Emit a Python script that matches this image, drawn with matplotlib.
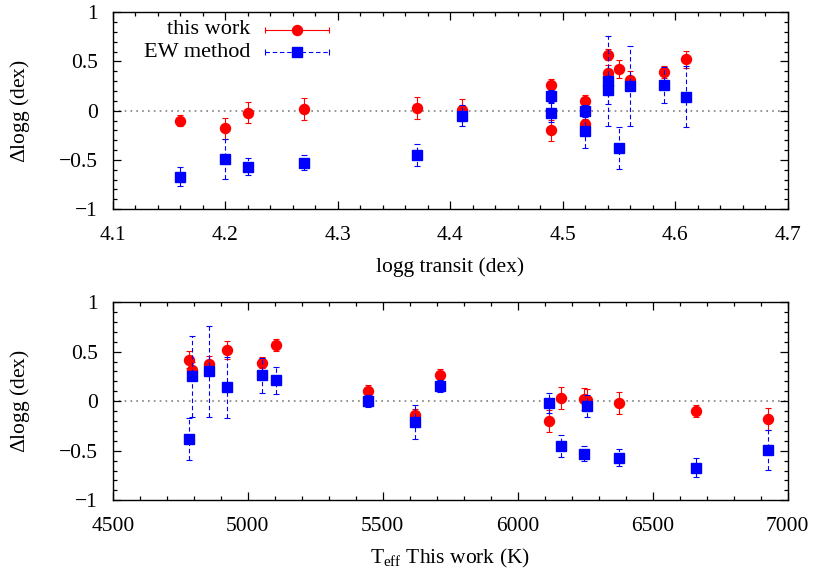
import numpy as np
import matplotlib
matplotlib.use("Agg")
import matplotlib.pyplot as plt
from matplotlib.ticker import MultipleLocator, FormatStrFormatter

plt.rcParams['font.family'] = 'Liberation Serif'
plt.rcParams['mathtext.fontset'] = 'custom'
plt.rcParams['mathtext.rm'] = 'Liberation Serif'
plt.rcParams['mathtext.it'] = 'Liberation Serif:italic'
plt.rcParams['axes.unicode_minus'] = True

# one entry per star
logg_transit = [4.16, 4.20, 4.22, 4.27, 4.37, 4.41, 4.49, 4.49, 4.52, 4.52, 4.54, 4.54, 4.55, 4.56, 4.59, 4.61]
teff = [6660, 6928, 6375, 6244, 6162, 6255, 5711, 6114, 5447, 5620, 5105, 4855, 4781, 4793, 5053, 4921]
dlogg_this = [-0.10, -0.18, -0.02, 0.02, 0.03, 0.01, 0.26, -0.20, 0.10, -0.14, 0.57, 0.38, 0.42, 0.31, 0.39, 0.52]
err_this = [0.06, 0.11, 0.11, 0.11, 0.11, 0.11, 0.06, 0.11, 0.06, 0.06, 0.06, 0.08, 0.09, 0.09, 0.06, 0.09]
dlogg_ew = [-0.67, -0.49, -0.57, -0.53, -0.45, -0.05, 0.15, -0.02, 0.00, -0.21, 0.21, 0.30, -0.38, 0.25, 0.26, 0.14]
err_ew = [0.095, 0.20, 0.085, 0.075, 0.11, 0.11, 0.06, 0.10, 0.06, 0.17, 0.14, 0.46, 0.21, 0.41, 0.18, 0.31]

RED = '#ff0000'
BLUE = '#0000ff'
FS = 15.5

fig = plt.figure(figsize=(8.3, 5.81), dpi=100)
ax1 = fig.add_axes([0.136, 0.640, 0.813, 0.339])
ax2 = fig.add_axes([0.136, 0.139, 0.813, 0.341])


def draw(ax, x):
    ax.axhline(0, color='#808080', ls=(0, (1, 2.5)), lw=1.2, zorder=1)
    ax.errorbar(x, dlogg_this, yerr=err_this, fmt='o', color=RED, ms=7.2,
                ecolor=RED, elinewidth=0.8, capsize=2.2, capthick=0.8, zorder=3)
    eb = ax.errorbar(x, dlogg_ew, yerr=err_ew, fmt='s', color=BLUE, ms=6.5,
                     ecolor=BLUE, elinewidth=0.8, capsize=2.2, capthick=0.8, zorder=4)
    eb[2][0].set_linestyle((0, (4, 2.5)))
    ax.set_ylim(-1, 1)
    ax.yaxis.set_major_locator(MultipleLocator(0.5))
    ax.yaxis.set_minor_locator(MultipleLocator(0.1))
    ax.yaxis.set_major_formatter(plt.FuncFormatter(lambda v, p: ('%g' % v).replace('-', '\u2212')))
    ax.tick_params(which='both', direction='in', top=True, right=True, labelsize=FS)
    ax.tick_params(axis='x', which='major', pad=12)
    ax.tick_params(axis='y', which='major', pad=11)
    ax.tick_params(which='major', length=6, width=0.9)
    ax.tick_params(which='minor', length=3, width=0.9)
    for s in ax.spines.values():
        s.set_linewidth(1.0)
    ax.set_ylabel(r'$\Delta$logg (dex)', fontsize=FS, labelpad=19)


draw(ax1, logg_transit)
ax1.set_xlim(4.1, 4.7)
ax1.xaxis.set_major_locator(MultipleLocator(0.1))
ax1.xaxis.set_minor_locator(MultipleLocator(0.02))
ax1.xaxis.set_major_formatter(FormatStrFormatter('%.1f'))
ax1.set_xlabel('logg transit (dex)', fontsize=FS, labelpad=9)

draw(ax2, teff)
ax2.set_xlim(4500, 7000)
ax2.xaxis.set_major_locator(MultipleLocator(500))
ax2.xaxis.set_minor_locator(MultipleLocator(100))
ax2.set_xlabel(r'T$_{\rm eff}$ This work (K)', fontsize=FS, labelpad=8)

# gnuplot style key with horizontal error bar samples
key = [('this work', RED, 'o', 7.2, '-', 0.910),
       ('EW method', BLUE, 's', 6.5, (0, (4, 2.5)), 0.797)]
for label, c, m, ms, ls, yk in key:
    ax1.text(0.204, yk, label, transform=ax1.transAxes, ha='right', va='center', fontsize=FS + 0.5)
    ax1.plot([0.225, 0.320], [yk, yk], transform=ax1.transAxes, color=c, ls=ls, lw=0.8, clip_on=False)
    ax1.plot([0.225, 0.320], [yk, yk], transform=ax1.transAxes, color=c, ls='none', marker='|', ms=5, mew=0.8, clip_on=False)
    ax1.plot([0.2725], [yk], transform=ax1.transAxes, color=c, marker=m, ms=ms, ls='none', clip_on=False)

fig.savefig('out.png', dpi=100)
